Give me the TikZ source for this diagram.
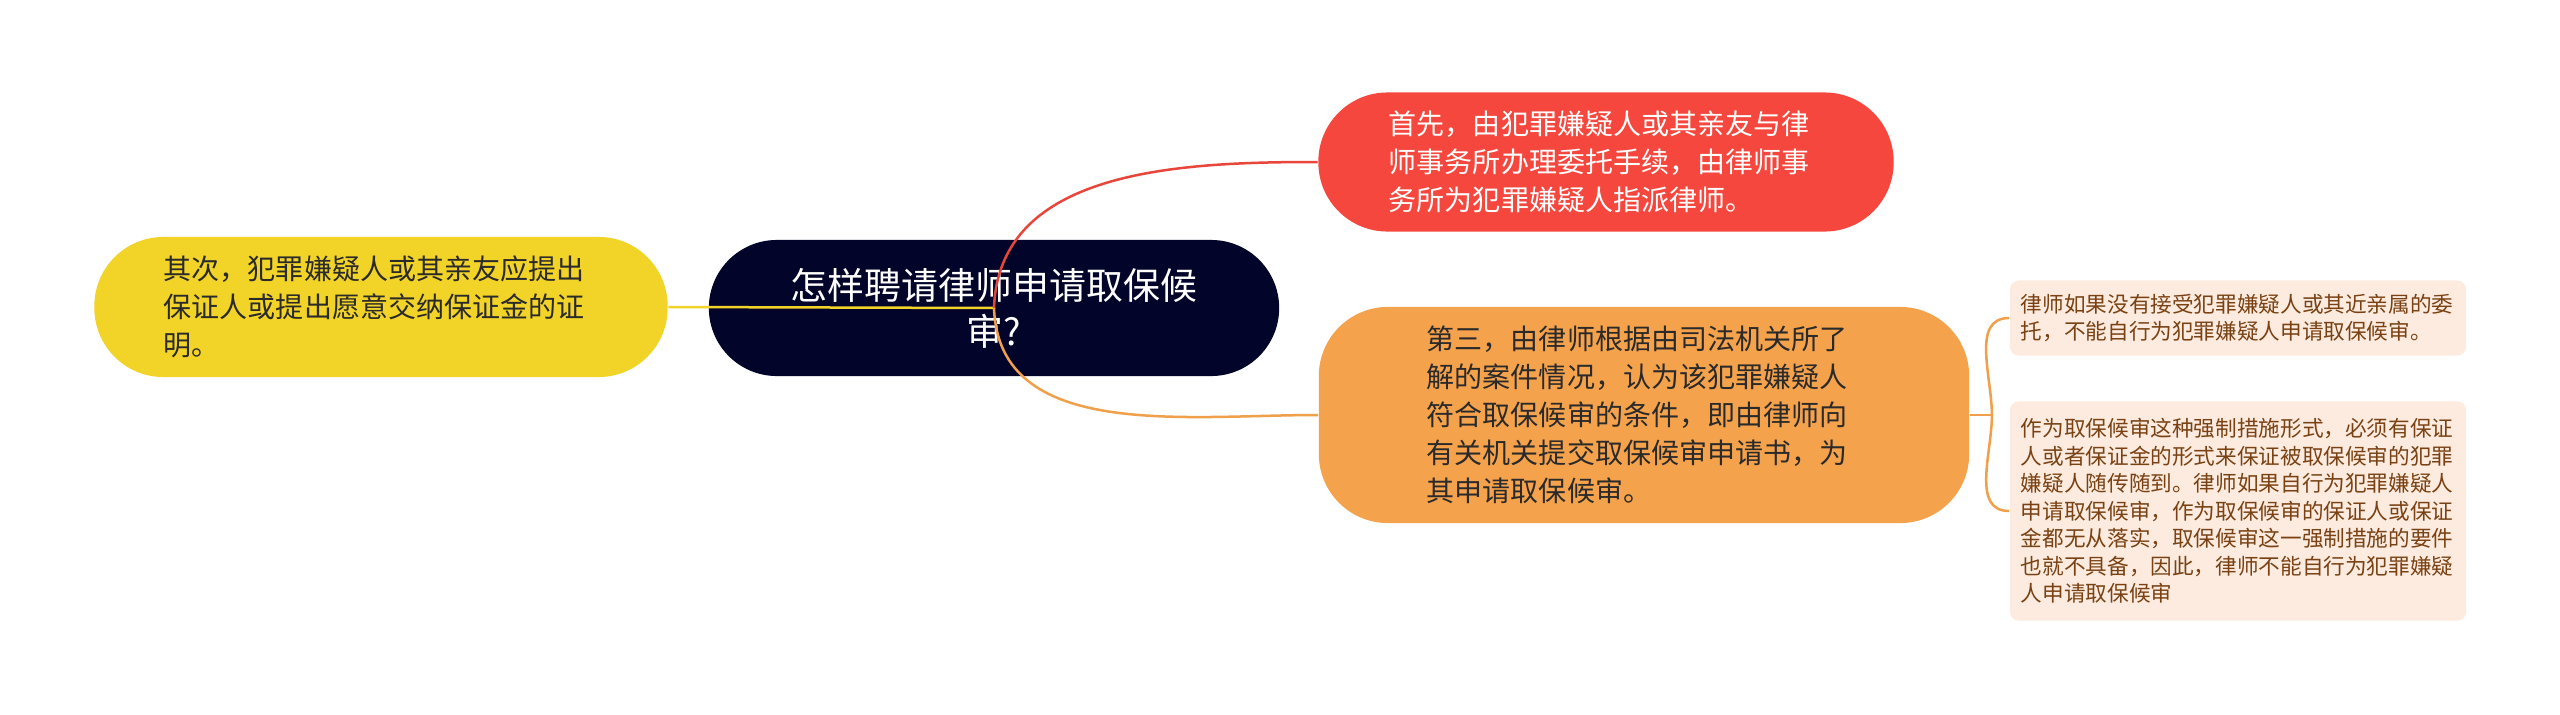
\documentclass[tikz,border=0pt]{standalone}
\usepackage{fontspec}
\setmainfont{Noto Sans CJK SC}
\usetikzlibrary{positioning}
\definecolor{navy}{HTML}{02042A}
\definecolor{topicred}{HTML}{F5473D}
\definecolor{topicyellow}{HTML}{F2D327}
\definecolor{topicorange}{HTML}{F5A24C}
\definecolor{linered}{HTML}{E8453B}
\definecolor{lineorange}{HTML}{F0A04B}
\definecolor{leaffill}{HTML}{FCEBDE}
\definecolor{leaftext}{HTML}{7A4214}
\definecolor{darktext}{HTML}{2A2A2A}

\begin{document}
\begin{tikzpicture}[x=0.01cm, y=-0.01cm,
  main node/.style={rounded corners=0.68cm, minimum width=5.7cm, minimum height=1.36cm, fill=navy, text=white, align=center, inner sep=0pt, font=\fontsize{10.5}{13.1}\selectfont},
  topic node/.style={rounded corners=0.69cm, align=left, inner sep=0pt, text width=4.34cm, font=\fontsize{7.97}{10.8}\selectfont},
  leaf node/.style={rounded corners=0.09cm, fill=leaffill, text=leaftext, align=left, inner sep=0pt, minimum width=4.56cm, text width=4.34cm, font=\fontsize{6.15}{7.8}\selectfont},
  link/.style={line width=0.025cm}]
\useasboundingbox (0,0) rectangle (2560,715);
\node[main node] (0) at (994,308) {怎样聘请律师申请取保候\\审?};
\node[topic node, fill=topicred, text=white, minimum width=5.75cm, minimum height=1.39cm] (1) at (1606,162) {首先，由犯罪嫌疑人或其亲友与律\\师事务所办理委托手续，由律师事\\务所为犯罪嫌疑人指派律师。};
\node[topic node, fill=topicyellow, text=darktext, minimum width=5.73cm, minimum height=1.40cm] (2) at (381,307) {其次，犯罪嫌疑人或其亲友应提出\\保证人或提出愿意交纳保证金的证\\明。};
\node[topic node, fill=topicorange, text=darktext, minimum width=6.5cm, minimum height=2.16cm] (3) at (1644,415) {第三，由律师根据由司法机关所了\\解的案件情况，认为该犯罪嫌疑人\\符合取保候审的条件，即由律师向\\有关机关提交取保候审申请书，为\\其申请取保候审。};
\node[leaf node, minimum height=0.75cm] (4) at (2238,318) {律师如果没有接受犯罪嫌疑人或其近亲属的委\\托，不能自行为犯罪嫌疑人申请取保候审。};
\node[leaf node, minimum height=2.19cm] (5) at (2238,511) {作为取保候审这种强制措施形式，必须有保证\\人或者保证金的形式来保证被取保候审的犯罪\\嫌疑人随传随到。律师如果自行为犯罪嫌疑人\\申请取保候审，作为取保候审的保证人或保证\\金都无从落实，取保候审这一强制措施的要件\\也就不具备，因此，律师不能自行为犯罪嫌疑\\人申请取保候审};
\coordinate[right=0.22cm of 3] (j);
\path[link]
(0.center) edge[topicyellow] (2.east)
(0.center) edge[linered, out=88, in=180] (1.west)
(0.center) edge[lineorange, out=-88, in=180] (3.west)
(3.east) edge[lineorange] (j)
(j) edge[lineorange, out=90, in=180] (4.west)
(j) edge[lineorange, out=-90, in=180] (5.west);
\end{tikzpicture}
\end{document}
